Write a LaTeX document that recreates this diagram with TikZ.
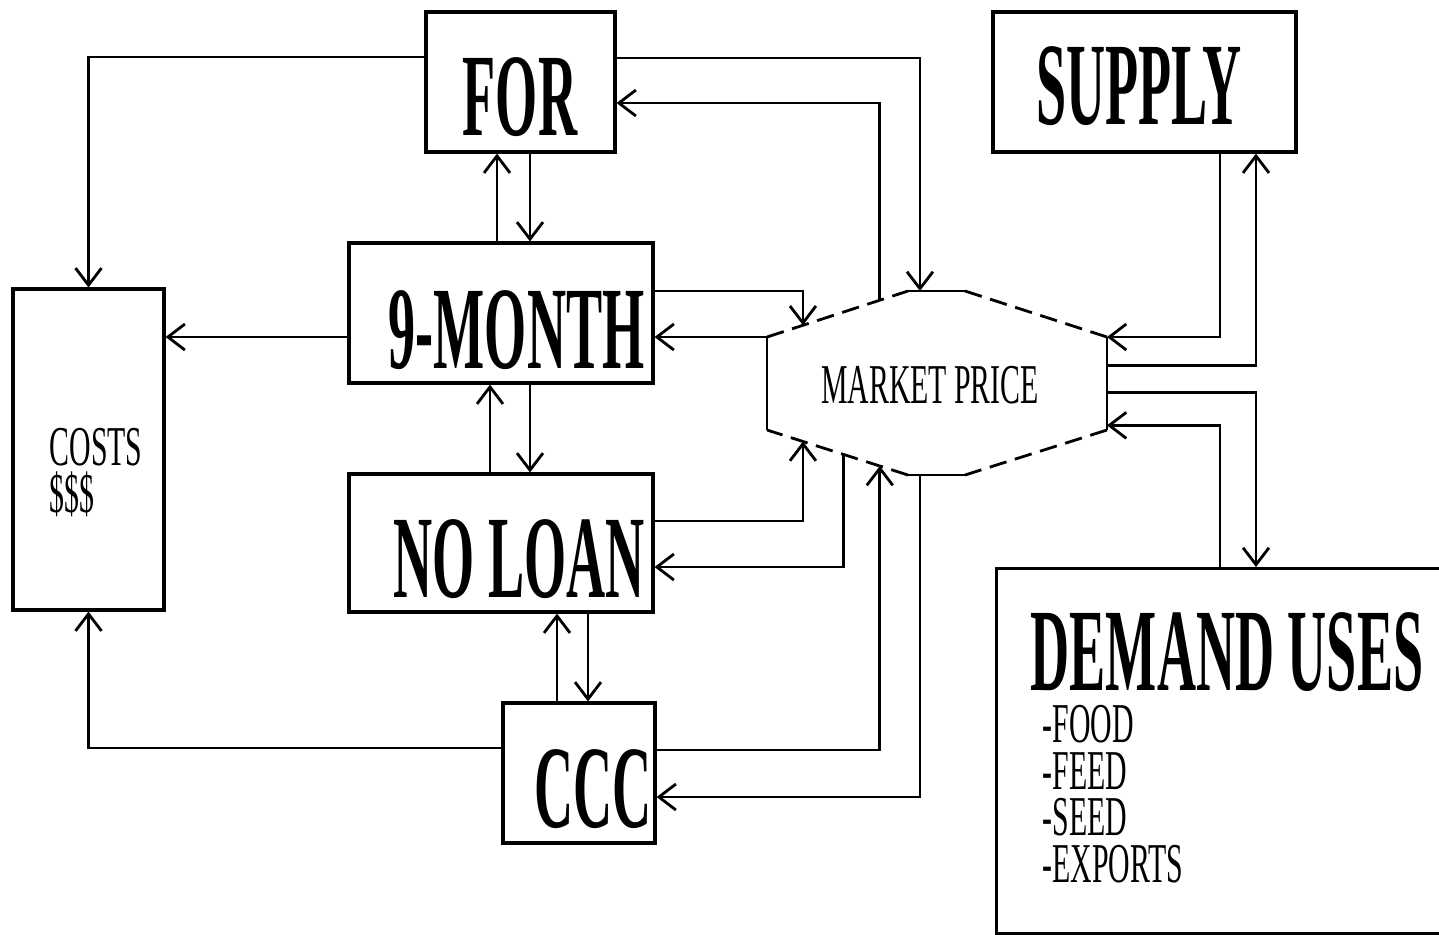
\documentclass[tikz,border=0pt]{standalone}
\usepackage{fontspec}
\setmainfont{Liberation Serif}
\newfontfamily\plotfont[FakeStretch=0.53]{Liberation Serif}
\newfontfamily\bigfont[FakeStretch=0.46]{Liberation Serif}
\usetikzlibrary{positioning,calc,arrows.meta}
\tikzset{
  box/.style={draw, line width=0.9pt, inner sep=0pt},
  bigtxt/.style={font=\bigfont\bfseries\fontsize{33.5}{36}\selectfont, inner sep=0pt, anchor=base},
  smalltxt/.style={font=\plotfont\fontsize{16}{13.2}\selectfont, inner sep=0pt, anchor=base west},
  arr/.style={-{Straight Barb[length=1.7mm,width=2.6mm]}, line width=0.8pt},
  edgeline/.style={line width=0.8pt},
  slopeline/.style={line width=0.8pt, dash pattern=on 5pt off 2.5pt}
}

\begin{document}
\begin{tikzpicture}
  \useasboundingbox (0,0) rectangle (14.39,-9.34);
  \clip (0,0) rectangle (14.39,-9.34);
  % boxes
  \node[box, minimum width=1.89cm, minimum height=1.40cm] (for) at (5.205,-0.82) {};
  \node[box, minimum width=3.03cm, minimum height=1.40cm] (supply) at (11.445,-0.82) {};
  \node[box, minimum width=3.04cm, minimum height=1.40cm] (month) at (5.01,-3.13) {};
  \node[box, minimum width=3.04cm, minimum height=1.38cm] (noloan) at (5.01,-5.43) {};
  \node[box, minimum width=1.52cm, minimum height=1.40cm] (ccc) at (5.79,-7.73) {};
  \node[box, minimum width=1.51cm, minimum height=3.21cm] (costs) at (0.885,-4.495) {};
  \node[box, minimum width=4.80cm, minimum height=3.65cm, anchor=north west] (demand) at (9.95,-5.67) {};
  % labels
  \node[bigtxt] (fortxt) at (5.20,-1.35) {FOR};
  \node[bigtxt] (supplytxt) at (11.39,-1.24) {SUPPLY};
  \node[bigtxt] (monthtxt) at (5.165,-3.68) {9-MONTH};
  \node[bigtxt] (noloantxt) at (5.195,-5.97) {NO LOAN};
  \node[bigtxt] (ccctxt) at (5.93,-8.27) {CCC};
  \node[bigtxt, anchor=base west] (demandtxt) at (10.30,-6.90) {DEMAND USES};
  \node[smalltxt, align=left, anchor=north west] (itemtxt) at (10.42,-7.05)
     {-FOOD\\-FEED\\-SEED\\-EXPORTS};
  \node[smalltxt, align=left, anchor=north west] (coststxt) at (0.49,-4.28)
     {COSTS\\\$\$\$};
  % market price outline
  \coordinate (mpL1) at (7.67,-3.37);
  \coordinate (mpT1) at (9.08,-2.91);
  \coordinate (mpT2) at (9.65,-2.91);
  \coordinate (mpR1) at (11.07,-3.37);
  \coordinate (mpR2) at (11.07,-4.30);
  \coordinate (mpB2) at (9.65,-4.75);
  \coordinate (mpB1) at (9.08,-4.75);
  \coordinate (mpL2) at (7.67,-4.30);
  \draw[edgeline] (mpL2) -- (mpL1) (mpT1) -- (mpT2) (mpR1) -- (mpR2) (mpB2) -- (mpB1);
  \draw[slopeline] (mpL1) -- (mpT1) (mpT2) -- (mpR1) (mpR2) -- (mpB2) (mpB1) -- (mpL2);
  \node[smalltxt, anchor=base] (mp) at (9.30,-4.03) {MARKET PRICE};
  % for
  \draw[arr] ([yshift=2.5mm]for.west) -| (costs.north);
  \draw[arr] ([yshift=2.4mm]for.east) -| ($(mpT1)!0.21!(mpT2)$);
  \draw[arr] ($(mpL1)!0.80!(mpT1)$) |- ([yshift=-2.1mm]for.east);
  \draw[arr] ([xshift=-0.4mm]month.north) -- ([xshift=-0.4mm]month.north |- for.south);
  \draw[arr] ([xshift=2.9mm]month.north |- for.south) -- ([xshift=2.9mm]month.north);
  % 9-month
  \draw[arr] ([yshift=-2.4mm]month.west) -- ([yshift=-2.4mm]month.west -| costs.east);
  \draw[arr] ([yshift=2.2mm]month.east) -| ($(mpL1)!0.255!(mpT1)$);
  \draw[arr] (mpL1) -- (mpL1 -| month.east);
  \draw[arr] ([xshift=-1.1mm]noloan.north) -- ([xshift=-1.1mm]noloan.north |- month.south);
  \draw[arr] ([xshift=2.9mm]noloan.north |- month.south) -- ([xshift=2.9mm]noloan.north);
  % no loan
  \draw[arr] ([yshift=2.2mm]noloan.east) -| ($(mpL2)!0.255!(mpB1)$);
  \draw[arr] ($(mpL2)!0.54!(mpB1)$) |- ([yshift=-2.4mm]noloan.east);
  \draw[arr] ([xshift=-2.2mm]ccc.north) -- ([xshift=-2.2mm]ccc.north |- noloan.south);
  \draw[arr] ([xshift=0.9mm]ccc.north |- noloan.south) -- ([xshift=0.9mm]ccc.north);
  % ccc
  \draw[arr] ([yshift=2.5mm]ccc.west) -| (costs.south);
  \draw[arr] ([yshift=2.3mm]ccc.east) -| ($(mpL2)!0.80!(mpB1)$);
  \draw[arr] ($(mpB1)!0.21!(mpB2)$) |- ([yshift=-2.4mm]ccc.east);
  % supply and demand
  \draw[arr] ([xshift=7.55mm]supply.south) |- (mpR1);
  \draw[arr] ($(mpR1)!0.31!(mpR2)$) -| ([xshift=11.15mm]supply.south);
  \draw[arr] ($(mpR1)!0.60!(mpR2)$) -| ([xshift=26.1mm]demand.north west);
  \draw[arr] ([xshift=22.5mm]demand.north west) |- ($(mpR1)!0.95!(mpR2)$);
\end{tikzpicture}
\end{document}
